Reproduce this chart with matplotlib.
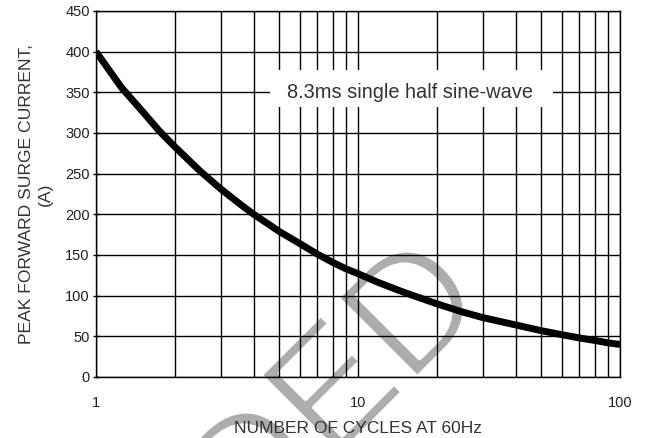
import matplotlib
matplotlib.use("Agg")
import matplotlib.pyplot as plt
import matplotlib.patheffects as pe
from matplotlib.patches import Rectangle
from matplotlib.ticker import FixedLocator, NullFormatter, FixedFormatter

# ---- data ----
cycles = [1, 1.25, 1.5, 1.75, 2, 2.5, 3, 3.5, 4, 4.5, 5, 6, 7, 8, 9, 10,
          12, 15, 20, 25, 30, 40, 50, 60, 70, 80, 90, 100]
surge_current = [400, 356, 327, 302, 283, 253, 231, 214, 200, 189, 179, 164, 151, 141, 133, 127,
                 116, 104, 90, 80, 73, 64, 57, 52, 48, 45, 42, 40]
x_major_ticks = [1, 10, 100]
x_major_labels = ["1", "10", "100"]
x_minor_ticks = [2, 3, 4, 5, 6, 7, 8, 9, 20, 30, 40, 50, 60, 70, 80, 90]
y_ticks = [0, 50, 100, 150, 200, 250, 300, 350, 400, 450]
annotation = "8.3ms single half sine-wave"
xlabel = "NUMBER OF CYCLES AT 60Hz"
ylabel = "PEAK FORWARD SURGE CURRENT,\n(A)"
watermark = "SUPERSEDED"

plt.rcParams['font.family'] = ['Liberation Sans', 'DejaVu Sans']

fig = plt.figure(figsize=(6.47, 4.38), dpi=100, facecolor='white')
ax = fig.add_axes([96/647, 1-377/438, 524/647, 366/438])
ax.set_facecolor('none')

# watermark (behind the grid), thinned with a white outline
fig.text(492/647, 1-303/438, watermark, rotation=45, rotation_mode='anchor',
         ha='right', va='baseline', fontsize=118, color='#adadad', zorder=-5,
         path_effects=[pe.Normal(), pe.Stroke(linewidth=3.2, foreground='white')])

ax.set_xscale('log')
ax.set_xlim(1, 100)
ax.set_ylim(0, 450)

ax.xaxis.set_major_locator(FixedLocator(x_major_ticks))
ax.xaxis.set_major_formatter(FixedFormatter(x_major_labels))
ax.xaxis.set_minor_locator(FixedLocator(x_minor_ticks))
ax.xaxis.set_minor_formatter(NullFormatter())
ax.set_yticks(y_ticks)

ax.grid(True, which='both', axis='x', color='black', lw=1.0, zorder=1)
ax.grid(True, which='major', axis='y', color='black', lw=1.0, zorder=1)
ax.set_axisbelow(True)
for s in ax.spines.values():
    s.set_color('black')
    s.set_linewidth(1.0)

ax.tick_params(axis='x', which='both', length=0, pad=14, labelsize=10.5, labelcolor='#222222')
ax.tick_params(axis='y', which='major', length=5, width=1.0, direction='inout', pad=2,
               labelsize=10.5, labelcolor='#222222')

# annotation box
ax.add_patch(Rectangle((0.332, 0.738), 0.54, 0.101, transform=ax.transAxes,
                       facecolor='white', edgecolor='none', zorder=2))
ax.text(0.599, 350/450, annotation, transform=ax.transAxes, ha='center', va='center',
        fontsize=14.4, color='#333333', zorder=3)

ax.plot(cycles, surge_current, color='black', lw=5, zorder=4,
        solid_capstyle='butt', solid_joinstyle='round')

ax.set_xlabel(xlabel, fontsize=12.5, color='#333333')
ax.xaxis.set_label_coords(0.5, -0.12)
ax.set_ylabel(ylabel, fontsize=12.6, color='#333333', linespacing=1.35)
ax.yaxis.set_label_coords(-0.082, 0.5)

fig.savefig('out.png', dpi=100, facecolor='white')
